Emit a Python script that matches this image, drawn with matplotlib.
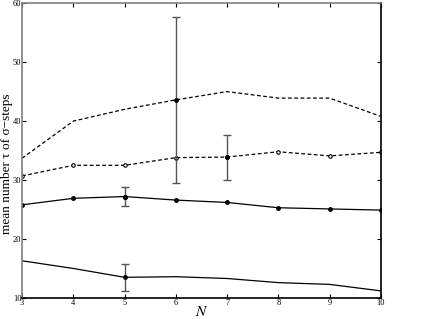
import matplotlib
matplotlib.use("Agg")
import matplotlib.pyplot as plt

# data
N = [3, 4, 5, 6, 7, 8, 9, 10]
dashed_top = [33.7, 40.0, 42.0, 43.6, 45.0, 43.9, 43.9, 40.8]
dashed_circ = [30.7, 32.5, 32.5, 33.8, 33.9, 34.8, 34.1, 34.7]
solid_dots = [25.8, 26.9, 27.2, 26.6, 26.2, 25.3, 25.1, 24.9]
solid_low = [16.3, 15.0, 13.5, 13.6, 13.3, 12.6, 12.3, 11.2]

# error bars: (N, centre, lower, upper)
err_top = (6, 43.6, 29.5, 57.6)
err_circ = (7, 33.9, 30.0, 37.6)
err_dots = (5, 27.2, 25.6, 28.9)
err_low = (5, 13.5, 11.2, 15.8)

plt.rcParams['font.family'] = ['Liberation Serif', 'DejaVu Serif']
plt.rcParams['mathtext.fontset'] = 'stix'

fig = plt.figure(figsize=(4.25, 3.19), dpi=100)
ax = fig.add_axes([0.052, 0.066, 0.844, 0.924])

ax.plot(N, dashed_top, color='black', ls=(0, (3, 2)), lw=0.9)
ax.plot(N, dashed_circ, color='black', ls=(0, (3, 2)), lw=0.9,
        marker='o', ms=2.5, mfc='white', mew=0.8)
ax.plot(N, solid_dots, color='black', lw=0.9, marker='o', ms=2.5)
ax.plot(N, solid_low, color='black', lw=0.9)

for x, c, lo, hi in [err_top, err_circ, err_dots, err_low]:
    ax.errorbar([x], [c], yerr=[[c - lo], [hi - c]], fmt='o', ms=2.5,
                color='black', ecolor='#555555', elinewidth=1.0, capsize=3)

ax.set_xlim(3, 10)
ax.set_ylim(10, 60)
ax.set_xticks(N)
ax.set_yticks([10, 20, 30, 40, 50, 60])
ax.tick_params(direction='in', length=3, labelsize=6, top=True, right=True,
               pad=1, width=0.8)
ax.tick_params(axis='y', pad=0.5)

for side in ['left', 'top']:
    ax.spines[side].set_color('#808080')
    ax.spines[side].set_linewidth(1.2)
for side in ['right', 'bottom']:
    ax.spines[side].set_linewidth(1.2)

ax.set_xlabel('$N$', fontsize=11, labelpad=-2)
ax.set_ylabel('mean number τ of σ−steps', fontsize=9.5)
ax.yaxis.set_label_coords(-0.025, 0.455)

fig.savefig('out.png', dpi=100)
